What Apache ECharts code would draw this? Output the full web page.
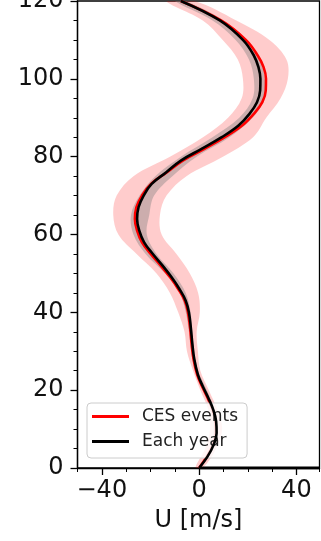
<!DOCTYPE html>
<html>
<head>
<meta charset="utf-8">
<script src="https://cdn.jsdelivr.net/npm/echarts@6/dist/echarts.min.js"></script>
<style>html,body{margin:0;padding:0;background:#fff}#c{width:321px;height:541px}</style>
</head>
<body>
<div id="c"></div>
<script>
// Heights (km) for the mean profiles
const heights = [0,3,6,9,12,15,18,21,24,28,32,36,40,43,46,49,52,55,58,61,64,67,70,73,76,79,82,85,88,91,94,97,100,103,106,110,115,120];
// Mean zonal wind, each year (m/s)
const eachYear = [0,3.5,6,7.2,7,5.8,3.8,1.5,-0.5,-2.0,-2.8,-3.4,-4.2,-5.5,-8.1,-11.3,-15,-19,-22.6,-24.6,-25.5,-24.9,-22.8,-19.5,-13.5,-7.5,1,9.3,16.2,20.7,23.8,25.1,25.2,24.4,22.5,18,8.5,-7.5];
// Mean zonal wind, CES events (m/s)
const cesEvents = [0,3.2,5.7,6.9,6.7,5.5,3.5,1.2,-0.8,-2.3,-3.1,-3.7,-4.6,-5.9,-8.6,-11.9,-15.8,-19.9,-23.5,-25.5,-26.4,-25.8,-23.5,-19.8,-13.2,-6.7,2.2,10.6,17.7,22.5,26,27.4,27.5,26.5,24.1,19.2,9,-7.5];
// Heights (km) for the spread bands
const bandHeights = [0,5,10,15,20,25,30,35,40,45,50,55,60,65,70,75,80,85,90,95,100,105,110,115,120];
// CES events spread (lower / upper, m/s)
const cesLower = [-1.5,2.5,4.5,3.8,0.5,-2.5,-5,-6,-8.6,-12,-17.5,-25.7,-33.2,-35.3,-33.9,-27,-12,1.6,11.9,17.5,18,15.9,9.7,1.5,-13.5];
const cesUpper = [1.5,7,9.5,7.5,4,0.5,-0.5,-1,0.3,-0.4,-3.8,-9.3,-15.4,-16.1,-13.4,-5.2,9.8,22.2,27.6,33.5,36.5,35.9,28.9,15.3,-2];
// Each-year spread (lower / upper, m/s)
const yearLower = [-0.5,4.5,6,5,1.8,-1.6,-3.3,-4.2,-5.5,-8,-14,-22,-27,-28,-24.5,-18,-7.5,5.5,16.5,22,22.5,20.5,15,5.5,-10];
const yearUpper = [0.5,6,7.8,6.5,3.2,-0.4,-2,-2.8,-3.5,-5.5,-10.5,-17.5,-21.5,-20.5,-18.5,-11,-1,12.5,22,27,27,25,19.5,10,-5.5];
// Thick segment along the bottom
const bottomSegment = [[0,0],[49.5,0]];
// Axis settings
const xMin = -50, xMax = 49.5;
const xMajorTicks = [-40, 0, 40];
const yMin = 0, yMax = 120, yStep = 20;

const FONT = 'DejaVu Sans';
const pair = (xs, ys) => xs.map((v, i) => [v, ys[i]]);

function bandSeries(lower, upper, fill) {
  return {
    type: 'custom',
    coordinateSystem: 'cartesian2d',
    silent: true,
    clip: true,
    data: [[0, 0]],
    renderItem: function (params, api) {
      const pts = [];
      for (let i = 0; i < bandHeights.length; i++) pts.push(api.coord([lower[i], bandHeights[i]]));
      for (let i = bandHeights.length - 1; i >= 0; i--) pts.push(api.coord([upper[i], bandHeights[i]]));
      return { type: 'polygon', shape: { points: pts, smooth: 0.35 }, style: { fill: fill, stroke: null } };
    }
  };
}

const fmt = v => (v < 0 ? '\u2212' + Math.abs(v) : String(v));

const chart = echarts.init(document.getElementById('c'), null, { renderer: 'canvas' });
chart.setOption({
  animation: false,
  backgroundColor: '#fff',
  grid: { left: 77.5, right: 1.5, top: 1, bottom: 73, outerBoundsMode: 'none', containLabel: false,
          show: true, borderColor: '#000', borderWidth: 1.3, backgroundColor: 'transparent' },
  xAxis: [{
    type: 'value', min: xMin, max: xMax, interval: 10,
    axisLine: { show: true, onZero: false, lineStyle: { color: '#000', width: 1.3 } },
    axisTick: { show: true, length: 4, lineStyle: { color: '#000', width: 1 } },
    axisLabel: { show: false },
    splitLine: { show: false },
    name: 'U [m/s]', nameLocation: 'middle', nameGap: 41,
    nameTextStyle: { fontFamily: FONT, fontSize: 24, color: '#111' }
  }, {
    type: 'value', min: xMin, max: xMax, position: 'bottom', gridIndex: 0,
    axisLine: { show: false },
    axisTick: { show: true, length: 7, customValues: xMajorTicks, lineStyle: { color: '#000', width: 1.3 } },
    axisLabel: { show: true, customValues: xMajorTicks, margin: 11, fontFamily: FONT, fontSize: 24, color: '#111', formatter: fmt },
    splitLine: { show: false }
  }],
  yAxis: {
    type: 'value', min: yMin, max: yMax, interval: yStep,
    axisLine: { show: true, onZero: false, lineStyle: { color: '#000', width: 1.3 } },
    axisTick: { show: true, length: 7, lineStyle: { color: '#000', width: 1.3 } },
    minorTick: { show: true, splitNumber: 4, length: 4, lineStyle: { color: '#000', width: 1 } },
    axisLabel: { margin: 14, fontFamily: FONT, fontSize: 24, color: '#111' },
    splitLine: { show: false }
  },
  legend: {
    data: ['CES events', 'Each year'],
    orient: 'vertical', left: 87, top: 403,
    icon: 'rect', itemWidth: 37, itemHeight: 3, itemGap: 6,
    padding: [4, 9, 7, 5],
    backgroundColor: 'rgba(255,255,255,0.8)', borderColor: '#cccccc', borderWidth: 1, borderRadius: 4,
    textStyle: { fontFamily: FONT, fontSize: 17, color: '#222', lineHeight: 19, padding: [0, 0, 0, 8] }
  },
  series: [
    bandSeries(cesLower, cesUpper, 'rgba(255,0,0,0.2)'),
    bandSeries(yearLower, yearUpper, 'rgba(128,128,128,0.4)'),
    { name: 'CES events', type: 'line', data: pair(cesEvents, heights), showSymbol: false, symbol: 'none', smooth: 0.4,
      lineStyle: { color: '#ff0000', width: 2.6 }, itemStyle: { color: '#ff0000' }, z: 3 },
    { name: 'Each year', type: 'line', data: pair(eachYear, heights), showSymbol: false, symbol: 'none', smooth: 0.4,
      lineStyle: { color: '#000000', width: 2.6 }, itemStyle: { color: '#000000' }, z: 4 },
    { type: 'line', data: bottomSegment, symbol: 'none', silent: true, lineStyle: { color: '#000', width: 3 }, z: 5 }
  ]
});
</script>
</body>
</html>
